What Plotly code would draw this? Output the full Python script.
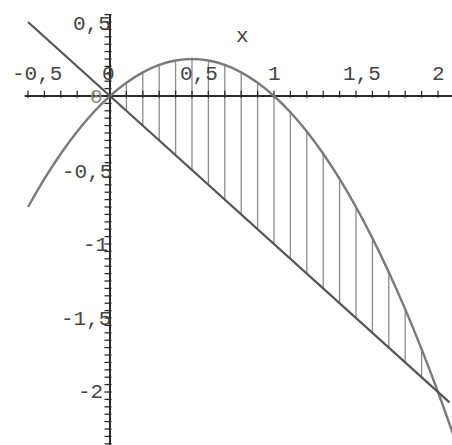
import numpy as np
import plotly.graph_objects as go

# Curve y = x - x^2, sampled points
parab_x = [-0.5, -0.4, -0.3, -0.2, -0.1, 0.0, 0.1, 0.2, 0.3, 0.4, 0.5, 0.6, 0.7,
           0.8, 0.9, 1.0, 1.1, 1.2, 1.3, 1.4, 1.5, 1.6, 1.7, 1.8, 1.9, 2.0, 2.1]
parab_y = [-0.75, -0.56, -0.39, -0.24, -0.11, 0.0, 0.09, 0.16, 0.21, 0.24, 0.25, 0.24, 0.21,
           0.16, 0.09, 0.0, -0.11, -0.24, -0.39, -0.56, -0.75, -0.96, -1.19, -1.44, -1.71, -2.0, -2.31]

# Straight line y = -x
line_x = [-0.5, 2.07]
line_y = [0.5, -2.07]

# Vertical hatching positions between the two curves
hatch_x = [0.1, 0.2, 0.3, 0.4, 0.5, 0.6, 0.7, 0.8, 0.9, 1.0,
           1.1, 1.2, 1.3, 1.4, 1.5, 1.6, 1.7, 1.8, 1.9]

# Axis tick labels
x_tick_vals = [-0.5, 0.0, 0.5, 1.0, 1.5, 2.0]
x_tick_text = ["-0,5", "0", "0,5", "1", "1,5", "2"]
y_tick_vals = [0.5, 0.0, -0.5, -1.0, -1.5, -2.0]
y_tick_text = ["0,5", "0", "-0,5", "-1", "-1,5", "-2"]

FONT = "Liberation Mono"
INK = "#2a2a2a"
LABEL = "#444444"
FS = 21

fig = go.Figure()

# hatching
hx, hy = [], []
for xv in hatch_x:
    top = float(np.interp(xv, parab_x, parab_y))
    bot = float(np.interp(xv, line_x, line_y))
    hx += [xv, xv, None]
    hy += [top, bot, None]
fig.add_trace(go.Scatter(x=hx, y=hy, mode="lines",
                         line=dict(color="#8a8a8a", width=1.3), hoverinfo="skip"))

# axes lines
fig.add_trace(go.Scatter(x=[-0.52, 2.2], y=[0, 0], mode="lines",
                         line=dict(color=INK, width=2), hoverinfo="skip"))
fig.add_trace(go.Scatter(x=[0, 0], y=[0.55, -2.5], mode="lines",
                         line=dict(color=INK, width=2), hoverinfo="skip"))

# minor ticks on x axis (every 0.1), drawn just above the axis
xt = [round(-0.5 + 0.1 * i, 2) for i in range(26)]
fig.add_trace(go.Scatter(x=xt, y=[0.012] * len(xt), mode="markers",
                         marker=dict(symbol="line-ns", size=5,
                                     line=dict(color=INK, width=1.3)),
                         hoverinfo="skip"))
# minor ticks on y axis (every 0.05), drawn left of the axis
yt = [round(0.55 - 0.05 * i, 2) for i in range(60)]
fig.add_trace(go.Scatter(x=[-0.012] * len(yt), y=yt, mode="markers",
                         marker=dict(symbol="line-ew", size=5,
                                     line=dict(color=INK, width=1.3)),
                         hoverinfo="skip"))

# curves
fig.add_trace(go.Scatter(x=parab_x, y=parab_y, mode="lines", line_shape="spline",
                         line=dict(color="#7a7a7a", width=2.4), hoverinfo="skip"))
fig.add_trace(go.Scatter(x=line_x, y=line_y, mode="lines",
                         line=dict(color="#555555", width=2.2), hoverinfo="skip"))

# tick labels
x_label_pos = [-0.445, -0.01, 0.543, 1.006, 1.537, 2.006]
for xv, xp, t in zip(x_tick_vals, x_label_pos, x_tick_text):
    fig.add_annotation(x=xp, y=0.145, text=t, showarrow=False,
                       font=dict(family=FONT, size=FS, color=LABEL))
y_label_pos = [(-0.11, 0.48), (-0.08, -0.01), (-0.14, -0.52),
               (-0.09, -1.007), (-0.146, -1.51), (-0.12, -2.0)]
for yv, (xp, yp), t in zip(y_tick_vals, y_label_pos, y_tick_text):
    if t == "0":
        continue
    fig.add_annotation(x=xp, y=yp, text=t, showarrow=False,
                       font=dict(family=FONT, size=FS, color=LABEL))
fig.add_annotation(x=-0.08, y=-0.01, text="0", showarrow=False,
                   font=dict(family=FONT, size=FS, color="#888888"))

# axis name
fig.add_annotation(x=0.805, y=0.40, text="x", showarrow=False,
                   font=dict(family=FONT, size=FS, color=LABEL))

fig.update_layout(
    width=452, height=445,
    margin=dict(l=0, r=0, t=0, b=0),
    paper_bgcolor="white", plot_bgcolor="white",
    showlegend=False,
    xaxis=dict(range=[-0.6707, 2.0854], visible=False, fixedrange=True),
    yaxis=dict(range=[-2.358, 0.6486], visible=False, fixedrange=True),
)

fig.write_html("out.html")
